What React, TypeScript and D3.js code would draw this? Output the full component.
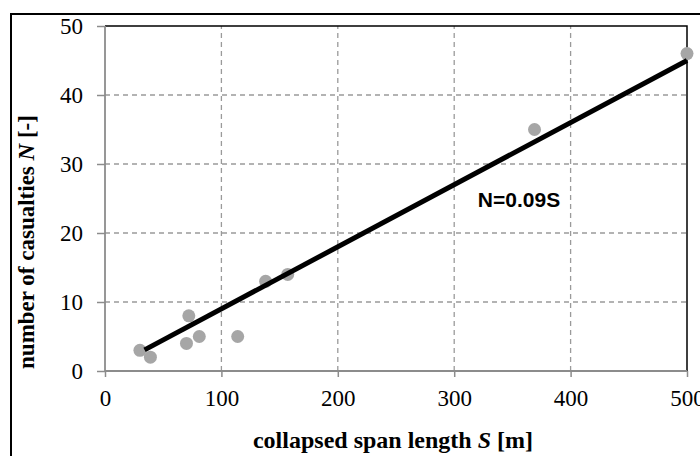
import * as d3 from "d3";
import React, { RefObject, useEffect, useRef } from "react";

// collapsed span length S [m] and number of casualties N
const spanLength = [30, 39, 70, 72, 81, 114, 138, 157, 369, 500];
const casualties = [3, 2, 4, 8, 5, 5, 13, 14, 35, 46];
const xTicks = [0, 100, 200, 300, 400, 500];
const yTicks = [0, 10, 20, 30, 40, 50];
const fitSlope = 0.09;
const fitRange = [34, 500];
const fitLabel = "N=0.09S";

const width = 700;
const height = 456;

const App = () => {
  const d3Ref: RefObject<HTMLDivElement> = useRef(null);

  useEffect(() => {
    const root = d3.select(d3Ref.current);
    root.selectAll("*").remove();
    const svg = root
      .append("svg")
      .attr("width", width)
      .attr("height", height)
      .style("position", "absolute")
      .style("left", "0px")
      .style("top", "0px")
      .style("background", "#fff");

    const x = d3.scaleLinear().domain([0, 500]).range([105, 687]);
    const y = d3.scaleLinear().domain([0, 50]).range([371, 26]);
    const grey = "#8c8c8c";

    // outer frame (runs off the right and bottom of the picture)
    svg.append("rect")
      .attr("x", 11).attr("y", 14)
      .attr("width", width).attr("height", height)
      .attr("fill", "none").attr("stroke", "#000").attr("stroke-width", 2);

    // grid
    svg.append("g").selectAll("line")
      .data(yTicks.slice(1, -1))
      .enter().append("line")
      .attr("x1", x(0)).attr("x2", x(500))
      .attr("y1", (d) => y(d)).attr("y2", (d) => y(d))
      .attr("stroke", "#9a9a9a").attr("stroke-width", 1.3)
      .attr("stroke-dasharray", "5,4");
    svg.append("g").selectAll("line")
      .data(xTicks.slice(1, -1))
      .enter().append("line")
      .attr("x1", (d) => x(d)).attr("x2", (d) => x(d))
      .attr("y1", y(0)).attr("y2", y(50))
      .attr("stroke", "#9a9a9a").attr("stroke-width", 1.3)
      .attr("stroke-dasharray", "5,4");

    // top and right border
    svg.append("path")
      .attr("d", `M${x(0)},${y(50)}H${x(500)}V${y(0)}`)
      .attr("fill", "none").attr("stroke", "#000").attr("stroke-width", 1.5);

    // axes
    const xAxis = svg.append("g")
      .attr("transform", `translate(0, ${y(0)})`)
      .call(d3.axisBottom(x).tickValues(xTicks).tickSize(6).tickPadding(12.5).tickFormat((d) => String(d)));
    const yAxis = svg.append("g")
      .attr("transform", `translate(${x(0)}, 0)`)
      .call(d3.axisLeft(y).tickValues(yTicks).tickSize(8).tickPadding(14).tickFormat((d) => String(d)));
    [xAxis, yAxis].forEach((g) => {
      g.select(".domain").attr("stroke", grey).attr("stroke-width", 1.8);
      g.selectAll(".tick line").attr("stroke", grey).attr("stroke-width", 1.5);
      g.selectAll(".tick text")
        .attr("fill", "#000")
        .attr("font-family", "Liberation Serif, Times New Roman, serif")
        .attr("font-size", 23);
    });
    yAxis.select(".domain").attr("d", `M0,${y(0)}V${y(50)}`);
    xAxis.select(".domain").attr("d", `M${x(0)},0H${x(500)}`);

    // points
    svg.append("g").selectAll("circle")
      .data(spanLength.map((s, i) => [s, casualties[i]]))
      .enter().append("circle")
      .attr("cx", (d) => x(d[0]))
      .attr("cy", (d) => y(d[1]))
      .attr("r", 6.5)
      .attr("fill", "#a6a6a6");

    // fit line
    const line = d3.line<number>().x((s) => x(s)).y((s) => y(fitSlope * s));
    svg.append("path")
      .attr("d", line(fitRange))
      .attr("fill", "none").attr("stroke", "#000").attr("stroke-width", 5);

    svg.append("text")
      .attr("x", 519).attr("y", 207)
      .attr("text-anchor", "middle")
      .attr("font-family", "Liberation Sans, Arial, sans-serif")
      .attr("font-weight", "bold")
      .attr("font-size", 21)
      .text(fitLabel);

    // axis titles
    const xt = svg.append("text")
      .attr("x", 393).attr("y", 448)
      .attr("text-anchor", "middle")
      .attr("font-family", "Liberation Serif, Times New Roman, serif")
      .attr("font-weight", "bold")
      .attr("font-size", 24);
    xt.append("tspan").text("collapsed span length ");
    xt.append("tspan").attr("font-style", "italic").text("S");
    xt.append("tspan").text(" [m]");

    const yt = svg.append("text")
      .attr("transform", "translate(34, 242) rotate(-90)")
      .attr("text-anchor", "middle")
      .attr("font-family", "Liberation Serif, Times New Roman, serif")
      .attr("font-weight", "bold")
      .attr("font-size", 23);
    yt.append("tspan").text("number of casualties ");
    yt.append("tspan").attr("font-style", "italic").text("N");
    yt.append("tspan").text(" [-]");
  }, [d3Ref]);

  return (
    <>
      <div ref={d3Ref} />
    </>
  );
};

export default App;
